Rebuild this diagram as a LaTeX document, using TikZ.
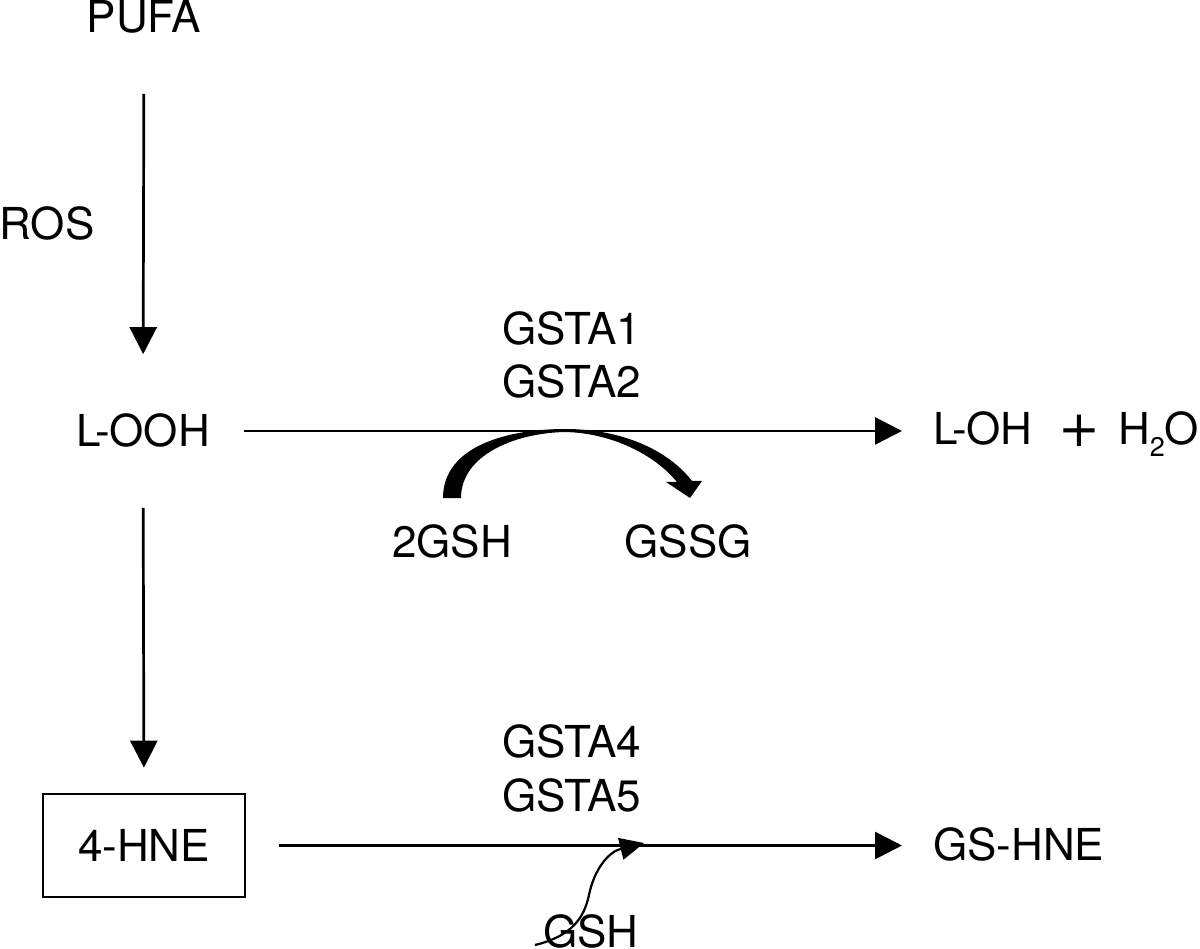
\documentclass[tikz,border=0pt]{standalone}
\usepackage{fontspec}
\setmainfont{TeX Gyre Heros}
\newfontfamily\plusfont{DejaVu Sans}
\usetikzlibrary{arrows.meta}
\begin{document}
\begin{tikzpicture}[x=1pt,y=-1pt,
  lbl/.style={inner sep=0pt,outer sep=0pt,anchor=base,font=\fontsize{44}{53}\selectfont},
  arr/.style={line width=2.7pt,-{Triangle[length=27pt,width=27pt]}},
  thinarr/.style={line width=2.2pt,-{Triangle[length=24pt,width=22pt]}},
  hnebox/.style={draw,line width=2.7pt,inner sep=0pt,minimum width=202pt,minimum height=103pt,font=\fontsize{44}{53}\selectfont}]
\useasboundingbox (0,0) rectangle (1200,949);
% nodes
\node[lbl] (pufa) at (144,33) {PUFA};
\node[lbl] (ros) at (47,240) {ROS};
\node[lbl] (looh) at (143,447) {L-OOH};
\node[lbl] (gsta1) at (572,345) {GSTA1};
\node[lbl] (gsta2) at (572,398) {GSTA2};
\node[lbl,anchor=base west] (loh) at (933,445) {L-OH};
\node[inner sep=0pt,font=\plusfont\fontsize{50}{50}\selectfont] (plus) at (1079,431) {+};
\node[lbl,anchor=base west] (water) at (1118,445) {H\raisebox{-12pt}{\fontsize{27}{27}\selectfont 2}O};
\node[lbl] (gsh2) at (452,557) {2GSH};
\node[lbl] (gssg) at (688,557) {GSSG};
\node[lbl] (gsta4) at (572,757) {GSTA4};
\node[lbl] (gsta5) at (572,811) {GSTA5};
\node[hnebox] (hne) at (144,845.5) {4-HNE};
\node[lbl,anchor=base west] (gshne) at (933,860) {GS-HNE};
\node[lbl] (gsh) at (591,947) {GSH};
% connectors
\draw[arr,shorten <=60pt,shorten >=60pt] (pufa.south) -- (looh.north);
\draw[arr,shorten <=60pt,shorten >=25pt] (looh.south) -- (hne.north);
\draw[arr,shorten <=34pt,shorten >=31pt] (looh.east) -- (looh.east -| loh.west);
\draw[arr,shorten <=33pt,shorten >=31pt] (hne.east) -- (hne.east -| gshne.west);
% thick curved arrow 2GSH -> GSSG
\fill (443,498) .. controls (443,445) and (510,429) .. (565,429)
  .. controls (622,429) and (668,450) .. (692,481) -- (702,481) -- (690,498)
  -- (666,482) -- (677,482) .. controls (655,455) and (612,433) .. (565,432)
  .. controls (515,433) and (461,455) .. (461,498) -- cycle;
% thin curved arrow GSH
\coordinate (gshtail) at (535,945);
\coordinate (gshtip) at (644,843);
\draw[thinarr] (gshtail) .. controls (572,936) and (584,918) .. (589,895)
  .. controls (594,870) and (608,852) .. (gshtip);
\end{tikzpicture}
\end{document}
